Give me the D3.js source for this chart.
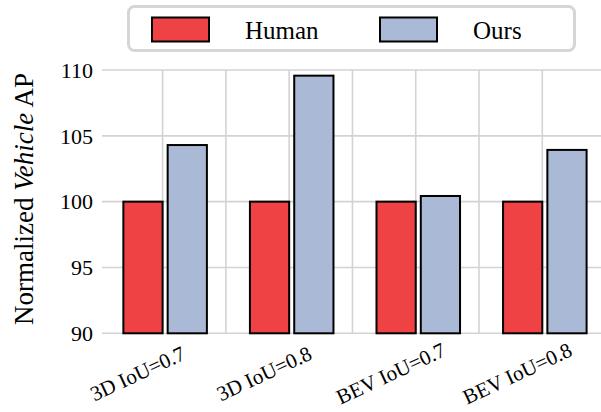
<!DOCTYPE html>
<html>
<head>
<meta charset="utf-8">
<script src="https://cdn.jsdelivr.net/npm/d3@7"></script>
<style>
  body { margin: 0; background: #fff; }
  svg { display: block; font-family: "Liberation Serif", "Times New Roman", serif; }
</style>
</head>
<body>
<svg width="601" height="412"></svg>
<script>
// chart data
var categories = ['3D IoU=0.7', '3D IoU=0.8', 'BEV IoU=0.7', 'BEV IoU=0.8'];
var humanValues = [100, 100, 100, 100];
var oursValues = [104.3, 109.57, 100.43, 103.93];
var yTicks = [90, 95, 100, 105, 110];
var seriesNames = ['Human', 'Ours'];

var colors = {Human: '#ee4245', Ours: '#aab9d6'};

var svg = d3.select('svg');

var xScale = d3.scaleLinear().domain([0, 3]).range([162.6, 542.3]);
var yScale = d3.scaleLinear().domain([90, 110]).range([333.3, 70]);
var plotLeft = 102, plotRight = 601;

// horizontal grid
svg.append('g')
    .selectAll('line')
    .data(yTicks)
    .enter()
    .append('line')
    .attr('x1', plotLeft)
    .attr('x2', plotRight)
    .attr('y1', d => yScale(d))
    .attr('y2', d => yScale(d))
    .attr('stroke', '#d3d3d3')
    .attr('stroke-width', 1.6);

// vertical grid, every half category
var vGrid = d3.range(0, 3.6, 0.5);
svg.append('g')
    .selectAll('line')
    .data(vGrid)
    .enter()
    .append('line')
    .attr('x1', d => xScale(d))
    .attr('x2', d => xScale(d))
    .attr('y1', yScale(110))
    .attr('y2', yScale(90))
    .attr('stroke', '#d3d3d3')
    .attr('stroke-width', 1.6);

// bars
var unit = xScale(1) - xScale(0);
var barW = 0.31;
svg.append('g')
    .selectAll('rect')
    .data(humanValues)
    .enter()
    .append('rect')
    .attr('x', (d, i) => xScale(i - barW))
    .attr('width', barW * unit)
    .attr('y', d => yScale(d))
    .attr('height', d => yScale(90) - yScale(d))
    .attr('fill', colors.Human)
    .attr('stroke', '#000')
    .attr('stroke-width', 2);

svg.append('g')
    .selectAll('rect')
    .data(oursValues)
    .enter()
    .append('rect')
    .attr('x', (d, i) => xScale(i + 0.04))
    .attr('width', barW * unit)
    .attr('y', d => yScale(d))
    .attr('height', d => yScale(90) - yScale(d))
    .attr('fill', colors.Ours)
    .attr('stroke', '#000')
    .attr('stroke-width', 2);

// y tick labels
svg.append('g')
    .selectAll('text')
    .data(yTicks)
    .enter()
    .append('text')
    .attr('x', 93)
    .attr('y', d => yScale(d))
    .attr('dy', '0.35em')
    .attr('text-anchor', 'end')
    .style('font-size', '22px')
    .text(d => d);

// x tick labels, centred under the red bars
svg.append('g')
    .selectAll('text')
    .data(categories)
    .enter()
    .append('text')
    .attr('text-anchor', 'middle')
    .attr('transform', (d, i) => `translate(${xScale(i) - 22},380) rotate(-25)`)
    .style('font-size', '21px')
    .text(d => d);

// y axis title
var yTitle = svg.append('text')
    .attr('transform', 'translate(33,199) rotate(-90)')
    .attr('text-anchor', 'middle')
    .style('font-size', '27px');
yTitle.append('tspan').text('Normalized ');
yTitle.append('tspan').style('font-style', 'italic').text('Vehicle');
yTitle.append('tspan').text(' AP');

// legend
var legend = svg.append('g');
legend.append('rect')
    .attr('x', 128.5)
    .attr('y', 6.5)
    .attr('width', 446)
    .attr('height', 44)
    .attr('rx', 6)
    .attr('fill', '#fff')
    .attr('stroke', '#d6d6d6')
    .attr('stroke-width', 3);

var legendX = [152, 380];
var legendTextX = [245, 473];
seriesNames.forEach(function (name, i) {
    legend.append('rect')
        .attr('x', legendX[i])
        .attr('y', 17.5)
        .attr('width', 57)
        .attr('height', 24)
        .attr('fill', colors[name])
        .attr('stroke', '#000')
        .attr('stroke-width', 2);
    legend.append('text')
        .attr('x', legendTextX[i])
        .attr('y', 39)
        .style('font-size', '25px')
        .text(name);
});
</script>
</body>
</html>
